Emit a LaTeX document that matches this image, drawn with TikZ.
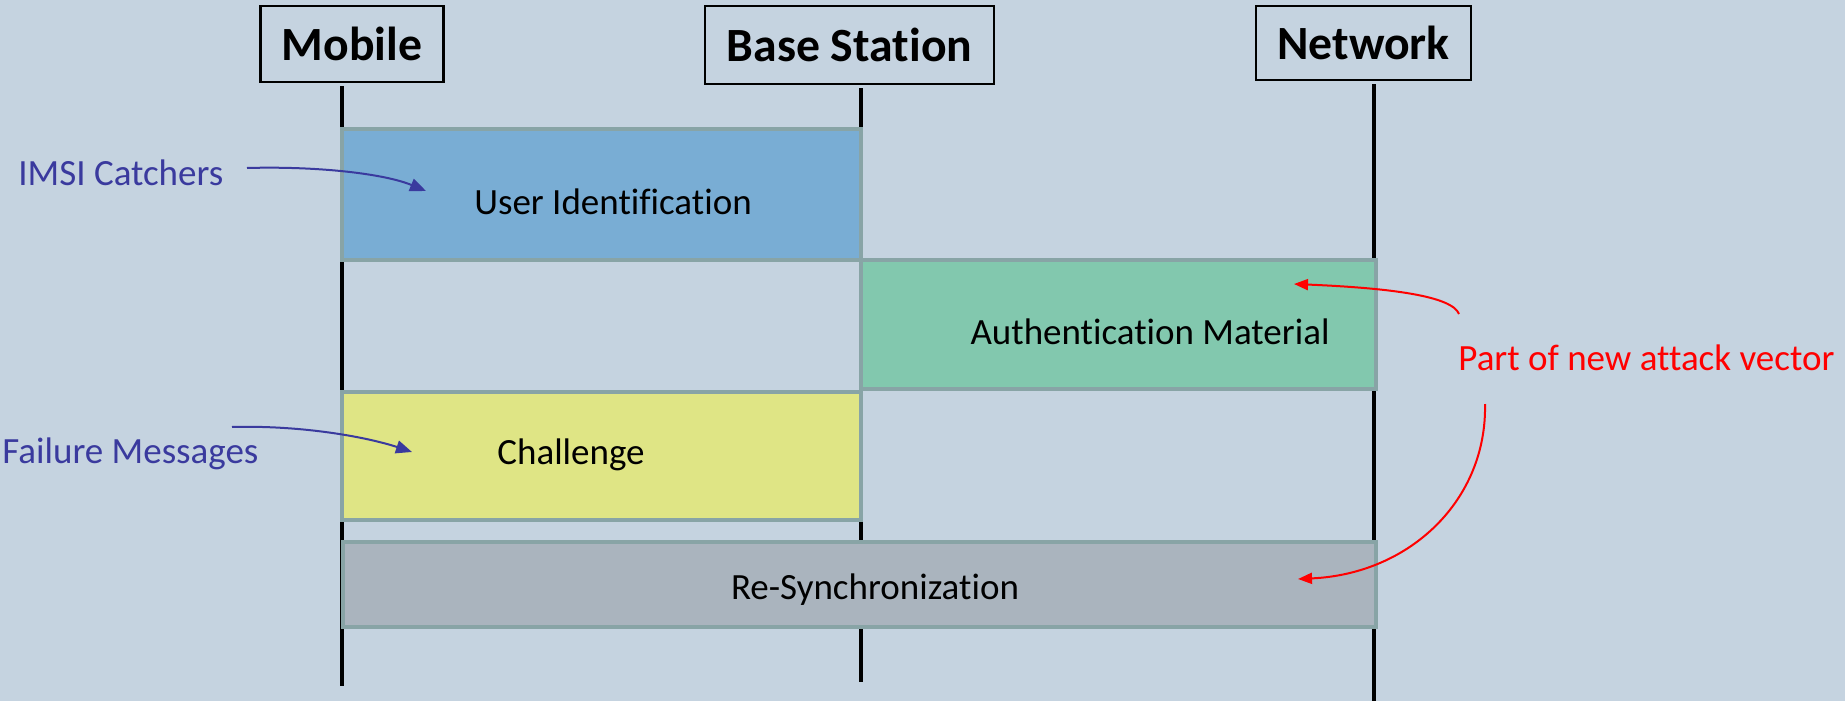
\documentclass[tikz,border=0pt]{standalone}
\usepackage{fontspec}
\setmainfont{Carlito}[Ligatures=NoCommon]
\usetikzlibrary{arrows.meta}
\definecolor{bg}{HTML}{C5D3E0}
\definecolor{frame}{HTML}{88A4A6}
\definecolor{blueBox}{HTML}{79ADD4}
\definecolor{greenBox}{HTML}{82C8AE}
\definecolor{yellowBox}{HTML}{DFE585}
\definecolor{grayBox}{HTML}{AAB4BE}
\definecolor{noteBlue}{HTML}{3A3A9E}
\definecolor{noteRed}{HTML}{FF0000}

\begin{document}
\begin{tikzpicture}[x=0.5pt,y=-0.5pt,
  actor/.style={draw=black, line width=1.2pt, inner sep=0pt,
    font=\fontsize{23.85}{28}\selectfont\bfseries},
  lifeline/.style={line width=2.2pt, black},
  phase/.style={draw=frame, line width=2.2pt, inner sep=0pt},
  lbl/.style={inner sep=0pt, font=\fontsize{18.5}{22}\selectfont},
  note/.style={inner sep=0pt, anchor=west, font=\fontsize{18.5}{22}\selectfont},
  bluearrow/.style={noteBlue, line width=1pt, -{Triangle[length=8pt,width=6.5pt]}},
  redarrow/.style={noteRed, line width=1pt, -{Triangle[length=7pt,width=5.5pt]}}
]
% canvas
\fill[bg] (0,0) rectangle (1845,701);
\useasboundingbox (0,0) rectangle (1845,701);

% participants
\node[actor, minimum width=183*0.5pt, minimum height=76*0.5pt] (mob) at (352,44) {Mobile};
\node[actor, minimum width=289*0.5pt, minimum height=78*0.5pt] (bs)  at (849.5,45) {Base Station};
\node[actor, minimum width=215*0.5pt, minimum height=74*0.5pt] (net) at (1363.5,43) {Network};

% lifeline ends
\coordinate (mobEnd) at (342,686);
\coordinate (bsEnd)  at (861,682);
\coordinate (netEnd) at (1374,701);

\draw[lifeline] (mob.south -| mobEnd) ++(0,3) -- (mobEnd);
\draw[lifeline] (bs.south -| bsEnd) ++(0,3) -- (bsEnd);
\draw[lifeline] (net.south -| netEnd) ++(0,3) -- (netEnd);

% protocol phases
\node[phase, fill=blueBox,   minimum width=519*0.5pt,  minimum height=131*0.5pt] (uid)  at (601.5,194.5) {};
\node[phase, fill=greenBox,  minimum width=515*0.5pt,  minimum height=129*0.5pt] (auth) at (1118.5,324.5) {};
\node[phase, fill=yellowBox, minimum width=519*0.5pt,  minimum height=128*0.5pt] (chal) at (601.5,456) {};
\node[phase, fill=grayBox,   minimum width=1033*0.5pt, minimum height=85*0.5pt]  (sync) at (859.5,584.5) {};

\node[lbl] (uidT)  at (613,202)  {User Identification};
\node[lbl] (authT) at (1150,332) {Authentication Material};
\node[lbl] (chalT) at (571,455)  {Challenge};
\node[lbl] (syncT) at (875,590)  {Re-Synchronization};

% annotations
\node[note, text=noteBlue] (imsi) at (18,173)  {IMSI Catchers};
\node[note, text=noteBlue] (fail) at (2,454)   {Failure Messages};
\node[note, text=noteRed]  (atk)  at (1458,358) {Part of new attack vector};

\coordinate (imsiFrom) at (247,168);
\coordinate (imsiTo)   at (426,191);
\coordinate (failFrom) at (232,427);
\coordinate (failTo)   at (412,452);
\coordinate (atkFromA) at (1459,314);
\coordinate (atkToA)   at (1294,284);
\coordinate (atkFromB) at (1485,404);
\coordinate (atkToB)   at (1298,579);

\draw[bluearrow] (imsiFrom) .. controls (320,166) and (385,174) .. (imsiTo);
\draw[bluearrow] (failFrom) .. controls (305,425) and (370,438) .. (failTo);
\draw[redarrow] (atkFromA) .. controls (1452,296) and (1390,288) .. (atkToA);
\draw[redarrow] (atkFromB) .. controls (1487,500) and (1410,574) .. (atkToB);
\end{tikzpicture}
\end{document}
